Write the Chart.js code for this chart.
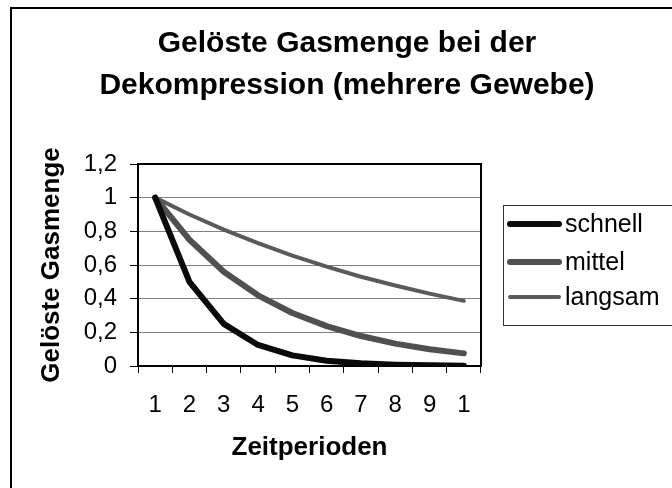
<!doctype html>
<html>
<head>
  <meta charset="utf-8">
  <script src="https://cdn.jsdelivr.net/npm/chart.js@4/dist/chart.umd.min.js"></script>
  <style>
    body { margin: 0; background: #fff; }
  </style>
</head>
<body>
  <canvas id="canvas" width="672" height="488"></canvas>
  <script>
    const FONT = '"Liberation Sans", Arial, sans-serif';

    const perioden = ['1', '2', '3', '4', '5', '6', '7', '8', '9', '1'];
    const schnell = [1, 0.5, 0.25, 0.125, 0.063, 0.031, 0.016, 0.008, 0.004, 0.002];
    const mittel = [1, 0.75, 0.56, 0.42, 0.315, 0.237, 0.178, 0.133, 0.1, 0.075];
    const langsam = [1, 0.9, 0.81, 0.73, 0.656, 0.59, 0.53, 0.478, 0.43, 0.387];

    // frame, plot border and boxed legend like the old office chart
    const frame = {
      id: 'frame',
      beforeDraw(chart) {
        const ctx = chart.ctx;
        ctx.save();
        ctx.fillStyle = '#fff';
        ctx.fillRect(0, 0, chart.width, chart.height);
        ctx.strokeStyle = '#000';
        ctx.lineWidth = 2;
        ctx.beginPath();
        ctx.moveTo(11, chart.height);
        ctx.lineTo(11, 8);
        ctx.lineTo(chart.width, 8);
        ctx.stroke();
        ctx.restore();
      },
      beforeDatasetsDraw(chart) {
        const { ctx, chartArea: a } = chart;
        ctx.save();
        ctx.strokeStyle = '#000';
        ctx.lineWidth = 2;
        ctx.beginPath();
        ctx.moveTo(a.left, a.top);
        ctx.lineTo(a.right, a.top);
        ctx.lineTo(a.right, a.bottom);
        ctx.stroke();
        ctx.restore();
      },
      afterDraw(chart) {
        const ctx = chart.ctx;
        ctx.save();
        ctx.strokeStyle = '#333';
        ctx.lineWidth = 1;
        ctx.strokeRect(503.5, 205.5, 180, 120);
        const rows = [224, 262, 297];
        ctx.font = '25px ' + FONT;
        ctx.textBaseline = 'middle';
        ctx.fillStyle = '#000';
        ctx.lineCap = 'round';
        chart.data.datasets.forEach((ds, i) => {
          ctx.strokeStyle = ds.borderColor;
          ctx.lineWidth = ds.borderWidth;
          ctx.beginPath();
          ctx.moveTo(510, rows[i]);
          ctx.lineTo(559, rows[i]);
          ctx.stroke();
          ctx.fillText(ds.label, 565, rows[i] + 1);
        });
        ctx.restore();
      }
    };

    new Chart(document.getElementById('canvas').getContext('2d'), {
      type: 'line',
      data: {
        labels: perioden,
        datasets: [
          { label: 'schnell', data: schnell, borderColor: '#0a0a0a', borderWidth: 6 },
          { label: 'mittel', data: mittel, borderColor: '#505050', borderWidth: 6 },
          { label: 'langsam', data: langsam, borderColor: '#5a5a5a', borderWidth: 4 }
        ]
      },
      options: {
        responsive: false,
        animation: false,
        layout: { padding: { left: 22, right: 0, top: 0, bottom: 0 } },
        elements: {
          point: { radius: 0 },
          line: { tension: 0, borderCapStyle: 'round', borderJoinStyle: 'round' }
        },
        scales: {
          x: {
            type: 'category',
            offset: true,
            grid: { drawOnChartArea: false, offset: true, tickLength: 7, tickColor: '#000' },
            border: { color: '#000', width: 2 },
            ticks: { color: '#000', padding: 18, maxRotation: 0, autoSkip: false, font: { family: FONT, size: 24 } },
            title: {
              display: true, text: 'Zeitperioden', color: '#000',
              font: { family: FONT, size: 26, weight: 'bold' }, padding: { top: 0, bottom: 25 }
            },
            afterFit(s) { s.height = 122; }
          },
          y: {
            min: 0, max: 1.2,
            grid: { color: '#808080', lineWidth: 1, tickLength: 8, tickColor: '#000' },
            border: { color: '#000', width: 2 },
            ticks: {
              stepSize: 0.2, color: '#000', padding: 13, font: { family: FONT, size: 24 },
              callback: (v) => String(Number(v.toFixed(1))).replace('.', ',')
            },
            title: {
              display: true, text: 'Gelöste Gasmenge', color: '#000',
              font: { family: FONT, size: 26, weight: 'bold' }, padding: { top: 14, bottom: 0 }
            },
            afterFit(s) { s.width = 116; }
          },
          legendSpace: {
            type: 'linear', position: 'right', display: true,
            grid: { display: false }, border: { display: false }, ticks: { display: false },
            afterFit(s) { s.width = 191; }
          }
        },
        plugins: {
          legend: { display: false },
          tooltip: { enabled: false },
          title: {
            display: true,
            text: ['Gelöste Gasmenge bei der', 'Dekompression (mehrere Gewebe)'],
            color: '#000',
            font: { family: FONT, size: 30, weight: 'bold', lineHeight: 1.4 },
            padding: { top: 23, bottom: 57 }
          }
        }
      },
      plugins: [frame]
    });
  </script>
</body>
</html>
